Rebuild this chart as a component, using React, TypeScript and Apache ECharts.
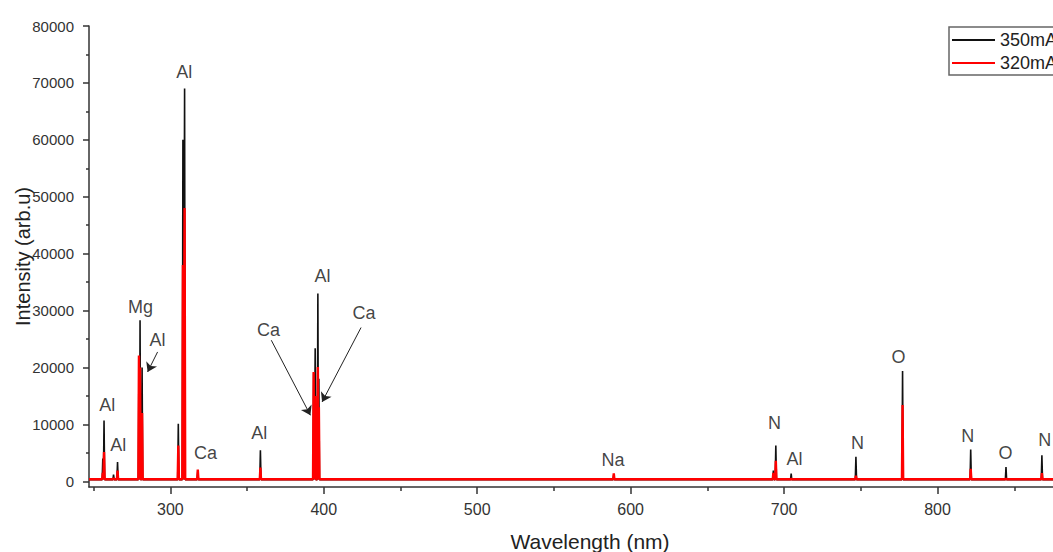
import React, { useEffect, useRef } from "react";
import * as echarts from "echarts";

// Emission lines (nm) and peak intensities (arb.u) for each current
const peakNm = [256.0, 256.8, 263.0, 265.6, 279.55, 280.27, 281.6, 305.2, 308.2, 309.3, 317.9, 358.7, 393.4, 394.4, 396.15, 396.8, 589.0, 693.0, 694.6, 704.6, 746.8, 777.2, 821.6, 844.6, 868.0];
const black350 = [4000, 10700, 1200, 3400, 21500, 28300, 20000, 10100, 60000, 69000, 1800, 5450, 19000, 23400, 33000, 18000, 1200, 1900, 6300, 1350, 4300, 19400, 5570, 2500, 4570];
const red320 = [1500, 5150, 600, 1900, 22100, 20000, 12000, 6300, 38000, 48000, 2050, 2400, 19200, 15000, 20100, 13000, 1400, 1500, 3600, 450, 1000, 13400, 2200, 500, 1450];
const baseline350 = 300;
const baseline320 = 350;
const rangeNm = [247, 900];

// Element annotations
const labelText = ["Al", "Al", "Mg", "Al", "Al", "Ca", "Al", "Ca", "Al", "Ca", "Na", "N", "Al", "N", "O", "N", "O", "N"];
const labelNm = [258.9, 266.1, 280.6, 291.7, 309.1, 323.0, 358.0, 364.0, 399.1, 426.2, 588.5, 693.7, 706.8, 747.8, 774.6, 819.6, 844.3, 869.8];
const labelI = [13360, 6330, 30700, 24790, 71900, 4950, 8440, 26550, 36040, 29600, 3800, 10200, 3870, 6650, 21800, 7900, 4920, 7200];

// Arrows
const arrowFromNm = [291.7, 365.8, 424.3];
const arrowFromI = [22730, 24790, 27020];
const arrowToNm = [285.2, 391.3, 398.9];
const arrowToI = [19220, 11600, 13940];

// Ticks
const xMajor = [300, 400, 500, 600, 700, 800];
const xMinor = [250, 350, 450, 550, 650, 750, 850];
const yMajor = [0, 10000, 20000, 30000, 40000, 50000, 60000, 70000, 80000];
const yMinor = [5000, 15000, 25000, 35000, 45000, 55000, 65000, 75000];

const FONT = "'Liberation Sans', Arial, Helvetica, sans-serif";

function spectrum(values: number[], base: number): number[][] {
  const w = 0.4;
  const pts: number[][] = [[rangeNm[0], base]];
  peakNm.forEach((nm, i) => {
    pts.push([nm - w, base], [nm, values[i]], [nm + w, base]);
  });
  pts.push([rangeNm[1], base]);
  return pts;
}

export default function App() {
  const ref = useRef<HTMLDivElement>(null);
  useEffect(() => {
    if (!ref.current) return;
    const chart = echarts.init(ref.current, undefined, { renderer: "svg" });
    const axisColor = "#333";
    const option: any = {
      animation: false,
      textStyle: { fontFamily: FONT },
      grid: { left: 89, right: 9, top: 26, bottom: 65, containLabel: false, outerBoundsMode: "none" },
      legend: {
        data: ["350mA", "320mA"],
        orient: "vertical",
        left: 949,
        top: 27,
        padding: [4, 8, 3, 3],
        itemGap: 5,
        itemWidth: 43,
        itemHeight: 2,
        icon: "rect",
        borderColor: "#666",
        borderWidth: 1.5,
        textStyle: { fontSize: 18, color: "#222", fontFamily: FONT },
      },
      xAxis: [
        {
          type: "value",
          min: rangeNm[0],
          max: rangeNm[1],
          name: "Wavelength (nm)",
          nameLocation: "middle",
          nameGap: 44,
          nameMoveOverlap: false,
          nameTextStyle: { fontSize: 21, color: "#222", fontFamily: FONT },
          axisLine: { show: true, onZero: false, lineStyle: { color: axisColor, width: 1.5 } },
          axisTick: { show: true, inside: false, length: 7, customValues: xMajor, lineStyle: { color: axisColor, width: 1.5 } },
          axisLabel: { show: true, customValues: xMajor, fontSize: 16, color: "#333", margin: 14, fontFamily: FONT, formatter: (v: number) => String(v) },
          splitLine: { show: false },
        },
        {
          type: "value",
          min: rangeNm[0],
          max: rangeNm[1],
          position: "bottom",
          axisLine: { show: false, onZero: false },
          axisTick: { show: true, inside: false, length: 4, customValues: xMinor, lineStyle: { color: axisColor, width: 1.5 } },
          axisLabel: { show: false },
          splitLine: { show: false },
        },
      ],
      yAxis: [
        {
          type: "value",
          min: -1000,
          max: 80000,
          name: "Intensity (arb.u)",
          nameLocation: "middle",
          nameGap: 56,
          nameMoveOverlap: false,
          nameTextStyle: { fontSize: 20, color: "#222", fontFamily: FONT },
          axisLine: { show: true, onZero: false, lineStyle: { color: axisColor, width: 1.5 } },
          axisTick: { show: true, inside: false, length: 6, customValues: yMajor, lineStyle: { color: axisColor, width: 1.5 } },
          axisLabel: { show: true, customValues: yMajor, fontSize: 15, color: "#333", margin: 15, fontFamily: FONT, formatter: (v: number) => String(v) },
          splitLine: { show: false },
        },
        {
          type: "value",
          min: -1000,
          max: 80000,
          position: "left",
          axisLine: { show: false, onZero: false },
          axisTick: { show: true, inside: false, length: 3, customValues: yMinor, lineStyle: { color: axisColor, width: 1.5 } },
          axisLabel: { show: false },
          splitLine: { show: false },
        },
      ],
      series: [
        {
          name: "350mA",
          type: "line",
          data: spectrum(black350, baseline350),
          showSymbol: false,
          symbol: "none",
          color: "#111",
          lineStyle: { color: "#111", width: 1.6 },
          silent: true,
        },
        {
          name: "320mA",
          type: "line",
          data: spectrum(red320, baseline320),
          showSymbol: false,
          symbol: "none",
          color: "#ff0000",
          lineStyle: { color: "#ff0000", width: 2.4 },
          silent: true,
        },
        {
          name: "labels",
          type: "scatter",
          data: labelText.map((t, i) => ({ name: t, value: [labelNm[i], labelI[i]] })),
          symbolSize: 1,
          itemStyle: { color: "transparent" },
          label: {
            show: true,
            formatter: "{b}",
            position: "inside",
            fontSize: 18,
            color: "#111",
            fontFamily: FONT,
          },
          silent: true,
          markLine: {
            silent: true,
            symbol: ["none", "arrow"],
            symbolSize: 9,
            label: { show: false },
            lineStyle: { color: "#222", width: 1, type: "solid" },
            data: arrowFromNm.map((nm, i) => [
              { coord: [nm, arrowFromI[i]] },
              { coord: [arrowToNm[i], arrowToI[i]] },
            ]),
          },
        },
      ],
    };
    chart.setOption(option);
    return () => chart.dispose();
  }, []);
  return (
    <div style={{ position: "fixed", left: 0, top: 0, width: 1053, height: 552, overflow: "hidden", background: "#fff" }}>
      <div ref={ref} style={{ width: 1100, height: 552 }} />
    </div>
  );
}
